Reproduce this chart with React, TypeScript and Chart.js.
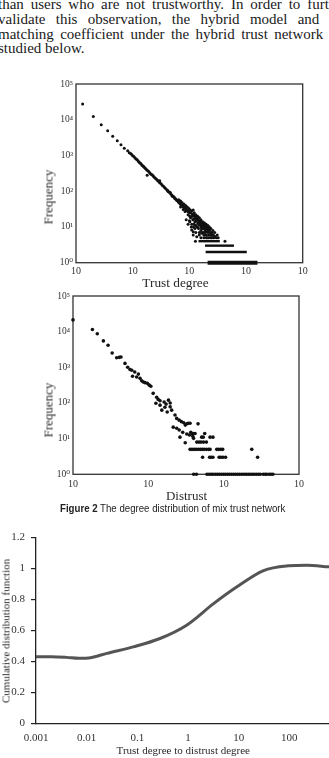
import React, { useEffect, useRef } from 'react';
import { Chart, registerables } from 'chart.js';

Chart.register(...registerables);

// ---------------- Top panel: trust degree distribution ----------------
const trustDegree = [
  1.31, 2.02, 2.79, 3.62, 4.44, 5.35, 6.22, 7.11, 8.17, 8.71,
  9.2, 9.6, 10, 10.5, 11, 11.5, 12, 12.5, 13, 13.5, 14, 14.5, 15, 15.5, 16, 16.7, 17.3, 18, 18.8, 19.5,
  20.3, 21, 22, 22.8, 23.6, 24.5, 25.5, 26.5, 27.5, 28.5, 29.5, 30.5, 32, 33.5, 35, 36.5, 38, 40, 41.5, 43,
  45, 47, 49, 51, 53, 55, 57, 59, 61, 64, 66, 69, 72, 75, 78, 81, 85, 88, 92, 96, 100,
  18, 30,
  65, 70, 74, 80, 86, 92, 98, 104, 110, 117, 122, 130, 140, 150, 160, 172, 185, 198, 212, 225, 240, 260, 280,
  70, 78, 84, 95, 102, 105, 110, 115, 120, 125, 130, 134, 140, 146, 154, 160, 126, 102, 110, 118, 125, 135,
  145, 165, 176, 190, 200, 215, 230, 110, 117, 117, 135, 150, 165, 180, 200, 220, 246, 265, 160, 180, 200,
  220, 250, 283, 323, 130, 150, 170, 190, 250, 108, 95, 88, 100, 120, 128, 425,
  105, 112, 118, 124, 131, 138, 145, 152, 158, 166, 174, 182, 190, 198, 206, 214, 222, 236,
  120, 128, 136, 142, 148, 156, 168, 178, 188, 196, 204, 216, 228,
  150, 160, 170, 180, 140, 130, 190, 205, 175, 160, 232, 240, 300, 260, 270, 310,
  42, 46, 50, 54, 58, 63, 67, 73, 77, 83, 90, 97
];
const trustFreq = [
  27500, 12300, 7200, 4900, 3450, 2570, 2000, 1590, 1350, 1200,
  1130, 1060, 990, 930, 850, 800, 760, 700, 650, 620, 590, 545, 520, 500, 465, 440, 415, 385, 365, 345,
  320, 300, 290, 270, 255, 240, 228, 212, 200, 192, 178, 170, 158, 145, 138, 128, 120, 110, 104, 96,
  90, 83, 78, 74, 70, 64, 62, 57, 55, 50, 48, 44, 42, 40, 37, 35, 33, 30, 28, 26.5, 25,
  282, 195,
  58, 53, 48, 44, 40, 36, 33, 30, 28, 30, 25, 22, 20, 18, 16, 14, 13, 12, 11, 10, 9, 8, 7,
  36, 31, 27, 22, 20, 18, 19.5, 16, 17, 14, 15, 16, 13, 12, 11.4, 11, 11.4, 14, 12, 10, 9, 10,
  9, 9, 9.2, 8, 7.4, 7, 8.3, 8.2, 7.4, 6, 5.3, 6, 6.7, 6, 6, 6, 6, 6, 5, 5, 5,
  5, 5, 5.4, 5, 7, 7, 7, 7, 7, 10, 12, 16, 15, 12, 4, 4,
  25, 23, 21, 20, 18, 17, 15, 14, 13, 12, 11, 10, 10, 9, 9, 8, 8, 7,
  22, 19, 18, 16, 15, 14, 13, 12, 11, 11, 10, 9, 9,
  12, 10, 10, 9, 10, 11, 6, 5, 7, 8, 6, 5, 5, 6, 5, 6,
  100, 92, 72, 68, 60, 52, 47, 41, 38, 34, 31, 27
];
// runs of equal (integer) frequency that merge into solid bars
const trustBandFreq = [1, 2, 3, 4];
const trustBandStart = [210, 194, 189, 145];
const trustBandEnd = [1590, 1030, 614, 345];
const trustXTicks = [1, 10, 100, 1000, 10000];
const trustXTickLabels = ['10', '10', '10', '10', '10'];

// ---------------- Middle panel: distrust degree distribution ----------------
const distrustDegree = [
  1, 1.81, 2.1, 2.53, 2.92, 3.31, 3.8, 4.12, 4.34, 4.9, 5.32, 5.71, 6.03, 6.17, 6.6, 7.0, 7.38, 7.76,
  8.17, 8.59, 9.04, 9.7, 10.3, 10.8, 11.6, 12.9, 13.5, 14.3, 12.6, 14.3, 16.2, 17.2, 18.5, 19.5, 15.1,
  16.6, 17.8, 19.5, 20.4, 22.6, 23.8, 25.7, 27.5, 29.5, 30.9, 32.4, 33.9, 21.4, 23.8, 25.7, 26.3, 28.6,
  32.4, 35.1, 36.6, 30.9, 38.9, 39.8, 45.7, 35.8,
  37.7, 39.5, 41.7, 56,
  51, 53.5, 66, 72,
  44, 47, 50, 54, 59,
  35.8, 38, 40.5, 43, 46, 49, 52, 55, 59, 63, 66, 81, 86, 92, 97, 236,
  52.5, 65, 68, 72, 87, 92, 98, 106, 282,
  40, 43.5, 60, 64, 68, 72, 77, 82, 87, 93, 99, 105, 112, 119, 127, 135, 144, 153, 163, 174, 186, 198,
  211, 224, 238, 253, 270, 288, 306, 335, 355, 372, 400, 425, 450
];
const distrustFreq = [
  21400, 11500, 8700, 5500, 4170, 2510, 1860, 1905, 1950, 1290, 1000, 870, 830, 560, 740, 537, 645, 490,
  417, 389, 372, 355, 316, 295, 186, 145, 126, 115, 98, 87, 107, 93, 120, 100, 63,
  76, 56, 78, 63, 46, 37, 33, 30, 28, 24, 26, 27, 21, 19.5, 17.4, 11, 15,
  13.5, 12.6, 15, 7.7, 11.7, 10.2, 26, 27,
  14, 14, 14, 14,
  11, 11, 11, 11,
  8, 8, 8, 8, 8,
  5, 5, 5, 5, 5, 5, 5, 5, 5, 5, 5, 5, 5, 5, 5, 5,
  3, 3, 3, 3, 3, 3, 3, 3, 3,
  1, 1, 1, 1, 1, 1, 1, 1, 1, 1, 1, 1, 1, 1, 1, 1, 1, 1, 1, 1, 1, 1,
  1, 1, 1, 1, 1, 1, 1, 1, 1, 1, 1, 1, 1
];
const distrustXTicks = [1, 10, 100, 1000];
const distrustXTickLabels = ['10', '10', '10', '10'];

const freqTicks = [1, 10, 100, 1000, 10000, 100000];
const freqTickLabels = ['10⁰', '10¹', '10²', '10³', '10⁴', '10⁵'];

// ---------------- Bottom panel: CDF of trust/distrust ratio ----------------
const ratioValues = [0.001, 0.002, 0.004, 0.007, 0.012, 0.025, 0.083, 0.28, 0.94, 3.2, 9.1, 31, 96, 220, 590, 1000];
const cdfValues = [0.43, 0.43, 0.426, 0.42, 0.424, 0.452, 0.494, 0.548, 0.634, 0.773, 0.88, 0.987, 1.018, 1.022, 1.011, 1.005];
const ratioTicks = [0.001, 0.01, 0.1, 1, 10, 100, 1000];
const ratioTickLabels = ['0.001', '0.01', '0.1', '1', '10', '100', '1000'];
const cdfTicks = [0, 0.2, 0.4, 0.6, 0.8, 1, 1.2];
const cdfTickLabels = ['0', '0.2', '0.4', '0.6', '0.8', '1', '1.2'];

const paragraphLines = [
  'than users who are not trustworthy. In order to further',
  'validate this observation, the hybrid model and the',
  'matching coefficient under the hybrid trust network are',
  'studied below.',
];

const SERIF = "'Liberation Serif', 'Times New Roman', 'DejaVu Serif', serif";
const SANS = "'Liberation Sans', Arial, sans-serif";

const fixedTicks = (values: number[]) => (scale: any) => {
  scale.ticks = values.map((v) => ({ value: v }));
};

const framePlugin = {
  id: 'frame',
  beforeDatasetsDraw(chart: any) {
    const { ctx, chartArea: a } = chart;
    ctx.save();
    ctx.strokeStyle = '#333';
    ctx.lineWidth = 1.3;
    ctx.strokeRect(a.left, a.top, a.right - a.left, a.bottom - a.top);
    ctx.restore();
  },
};

function scatterConfig(
  xs: number[], ys: number[], xMax: number, xTicks: number[], xLabels: string[],
  pad: { right: number; top: number }, yAxisWidth: number, xAxisHeight: number,
  radius: number, bands: any[], xPad: number
): any {
  return {
    type: 'scatter',
    data: {
      datasets: [
        ...bands,
        {
          data: xs.map((x, i) => ({ x, y: ys[i] })),
          pointRadius: radius,
          pointBackgroundColor: '#111',
          pointBorderWidth: 0,
          clip: false,
        },
      ],
    },
    options: {
      animation: false,
      responsive: false,
      events: [],
      plugins: { legend: { display: false }, tooltip: { enabled: false } },
      layout: { padding: { left: 0, right: pad.right, top: pad.top, bottom: 0 } },
      scales: {
        x: {
          type: 'logarithmic',
          min: 1,
          max: xMax,
          afterBuildTicks: fixedTicks(xTicks),
          afterFit: (s: any) => { s.height = xAxisHeight; },
          grid: { display: false, drawTicks: false },
          border: { display: false },
          ticks: {
            autoSkip: false, maxRotation: 0, minRotation: 0, padding: xPad,
            color: '#333', font: { family: SERIF, size: 10 },
            callback: (_v: any, i: number) => xLabels[i],
          },
        },
        y: {
          type: 'logarithmic',
          min: 1,
          max: 100000,
          afterBuildTicks: fixedTicks(freqTicks),
          afterFit: (s: any) => { s.width = yAxisWidth; },
          grid: { display: false, drawTicks: false },
          border: { display: false },
          ticks: {
            autoSkip: false, padding: 3,
            color: '#333', font: { family: SERIF, size: 9.5 },
            callback: (_v: any, i: number) => freqTickLabels[i],
          },
        },
      },
    },
    plugins: [framePlugin],
  };
}

function trustConfig(): any {
  const bands = trustBandFreq.map((f, i) => ({
    data: [{ x: trustBandStart[i], y: f }, { x: trustBandEnd[i], y: f }],
    showLine: true,
    borderColor: '#111',
    borderWidth: f === 1 ? 4 : 2.4,
    borderCapStyle: 'butt',
    pointRadius: 0,
    clip: false,
  }));
  return scatterConfig(trustDegree, trustFreq, 10000, trustXTicks, trustXTickLabels,
    { right: 26.3, top: 24 }, 76, 37.3, 1.5, bands, 3);
}

function distrustConfig(): any {
  return scatterConfig(distrustDegree, distrustFreq, 1000, distrustXTicks, distrustXTickLabels,
    { right: 30, top: 11 }, 73, 25.7, 1.8, [], 4);
}

function cdfConfig(): any {
  return {
    type: 'line',
    data: {
      datasets: [
        {
          data: ratioValues.map((x, i) => ({ x, y: cdfValues[i] })),
          borderColor: '#555',
          borderWidth: 3,
          pointRadius: 0,
          cubicInterpolationMode: 'monotone',
          fill: false,
        },
      ],
    },
    options: {
      animation: false,
      responsive: false,
      events: [],
      plugins: { legend: { display: false }, tooltip: { enabled: false } },
      layout: { padding: { left: 0, right: 20, top: 11.7, bottom: 0 } },
      scales: {
        x: {
          type: 'logarithmic',
          min: 0.001,
          max: 1000,
          afterBuildTicks: fixedTicks(ratioTicks),
          afterFit: (s: any) => { s.height = 34.7; },
          grid: { display: false, drawTicks: false },
          border: { display: true, color: '#222', width: 1.3 },
          ticks: {
            autoSkip: false, maxRotation: 0, minRotation: 0, padding: 8,
            color: '#333', font: { family: SERIF, size: 11 },
            callback: (_v: any, i: number) => ratioTickLabels[i],
          },
        },
        y: {
          type: 'linear',
          min: 0,
          max: 1.2,
          afterBuildTicks: fixedTicks(cdfTicks),
          afterFit: (s: any) => { s.width = 36; },
          grid: { display: true, drawOnChartArea: false, drawTicks: true, tickLength: 5, color: '#222', lineWidth: 1.2 },
          border: { display: true, color: '#222', width: 1.3 },
          ticks: {
            autoSkip: false, padding: 6,
            color: '#333', font: { family: SERIF, size: 11 },
            callback: (_v: any, i: number) => cdfTickLabels[i],
          },
        },
      },
    },
  };
}

function ChartCanvas(props: { make: () => any; left: number; top: number; width: number; height: number }) {
  const ref = useRef<HTMLCanvasElement>(null);
  useEffect(() => {
    const chart = new Chart(ref.current as HTMLCanvasElement, props.make());
    return () => chart.destroy();
  }, []);
  return (
    <canvas
      ref={ref}
      width={props.width}
      height={props.height}
      style={{ position: 'absolute', left: props.left, top: props.top, width: props.width, height: props.height }}
    />
  );
}

function Label(props: { text: React.ReactNode; cx: number; cy: number; size: number; rotate?: boolean; font?: string }) {
  return (
    <div
      style={{
        position: 'absolute',
        left: props.cx,
        top: props.cy,
        transform: `translate(-50%, -50%)${props.rotate ? ' rotate(-90deg)' : ''}`,
        whiteSpace: 'nowrap',
        fontFamily: props.font || SERIF,
        fontSize: props.size,
        fontWeight: 'normal',
        lineHeight: 1,
        color: '#2a2a2a',
      }}
    >
      {props.text}
    </div>
  );
}

export default function App() {
  const lineTops = [-3.1, 11.6, 27.1, 41.1];
  return (
    <div style={{ position: 'fixed', left: 0, top: 0, width: 329, height: 758, overflow: 'hidden', background: '#fff' }}>
      {paragraphLines.map((t, i) => (
        <div
          key={i}
          style={{
            position: 'absolute',
            left: -2,
            top: lineTops[i],
            width: 350,
            fontFamily: SERIF,
            fontSize: 15,
            lineHeight: '14.7px',
            color: '#1a1a1a',
            textAlign: 'justify',
            textAlignLast: i < 3 ? 'justify' : 'left',
          }}
        >
          {t}
        </div>
      ))}

      <ChartCanvas make={trustConfig} left={0} top={60} width={329} height={240} />
      <Label text="Trust degree" cx={175.5} cy={283} size={13.3} />
      <Label text="Frequency" cx={48} cy={197} size={13} rotate />

      <ChartCanvas make={distrustConfig} left={0} top={285} width={329} height={215} />
      <Label text="Distrust" cx={186.5} cy={495} size={13} />
      <Label text="Frequency" cx={48} cy={410} size={13} rotate />

      <div
        style={{
          position: 'absolute',
          left: 60,
          top: 503,
          fontFamily: SANS,
          fontSize: 10.5,
          lineHeight: 1.1,
          color: '#222',
          whiteSpace: 'nowrap',
          transform: 'scaleX(0.92)',
          transformOrigin: 'left top',
        }}
      >
        <b>Figure 2</b> The degree distribution of mix trust network
      </div>

      <ChartCanvas make={cdfConfig} left={0} top={525} width={360} height={233} />
      <Label text="Cumulative distribution function" cx={6} cy={630.5} size={11} rotate />
      <Label text="Trust degree to distrust degree" cx={183.3} cy={750} size={11} />
    </div>
  );
}
